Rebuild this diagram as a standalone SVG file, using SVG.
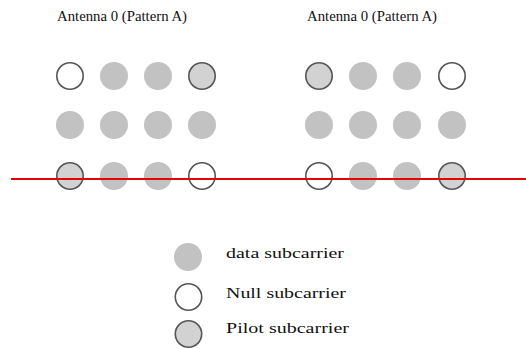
<svg xmlns="http://www.w3.org/2000/svg" width="526" height="349" viewBox="0 0 526 349">
<style>
text{font-family:"Liberation Serif","Times New Roman",serif;fill:#111}
.t{font-size:15px}
.l{font-size:15px}
.d{fill:#c2c2c2;stroke:none}
.n{fill:#fff;stroke:#555;stroke-width:1.6}
.p{fill:#d2d2d2;stroke:#555;stroke-width:1.6}
</style>
<rect width="526" height="349" fill="#fff"/>
<g id="title-left"><text class="t" x="57" y="21" textLength="130" lengthAdjust="spacingAndGlyphs">Antenna 0 (Pattern A)</text></g>
<g id="title-right"><text class="t" x="307" y="21" textLength="130" lengthAdjust="spacingAndGlyphs">Antenna 0 (Pattern A)</text></g>
<g id="grid-left">
<circle class="n" cx="70" cy="76" r="13.2"/>
<circle class="d" cx="114" cy="76" r="14"/>
<circle class="d" cx="158" cy="76" r="14"/>
<circle class="p" cx="202" cy="76" r="13.2"/>
<circle class="d" cx="70" cy="125" r="14"/>
<circle class="d" cx="114" cy="125" r="14"/>
<circle class="d" cx="158" cy="125" r="14"/>
<circle class="d" cx="202" cy="125" r="14"/>
<circle class="p" cx="70" cy="176" r="13.2"/>
<circle class="d" cx="114" cy="176" r="14"/>
<circle class="d" cx="158" cy="176" r="14"/>
<circle class="n" cx="202" cy="176" r="13.2"/>
</g>
<g id="grid-right">
<circle class="p" cx="319" cy="76" r="13.2"/>
<circle class="d" cx="363" cy="76" r="14"/>
<circle class="d" cx="407" cy="76" r="14"/>
<circle class="n" cx="452" cy="76" r="13.2"/>
<circle class="d" cx="319" cy="125" r="14"/>
<circle class="d" cx="363" cy="125" r="14"/>
<circle class="d" cx="407" cy="125" r="14"/>
<circle class="d" cx="452" cy="125" r="14"/>
<circle class="n" cx="319" cy="176" r="13.2"/>
<circle class="d" cx="363" cy="176" r="14"/>
<circle class="d" cx="407" cy="176" r="14"/>
<circle class="p" cx="452" cy="176" r="13.2"/>
</g>
<g id="connectors">
<line x1="11" y1="179" x2="526" y2="179" stroke="#e60000" stroke-width="2"/>
</g>
<g id="legend-data"><circle class="d" cx="188" cy="257" r="14"/><text class="l" x="226" y="258" textLength="118" lengthAdjust="spacingAndGlyphs">data subcarrier</text></g>
<g id="legend-null"><circle class="n" cx="188.5" cy="297" r="13.2"/><text class="l" x="226" y="298" textLength="120" lengthAdjust="spacingAndGlyphs">Null subcarrier</text></g>
<g id="legend-pilot"><circle class="p" cx="188.5" cy="334" r="13.2"/><text class="l" x="226" y="333" textLength="123" lengthAdjust="spacingAndGlyphs">Pilot subcarrier</text></g>
</svg>
